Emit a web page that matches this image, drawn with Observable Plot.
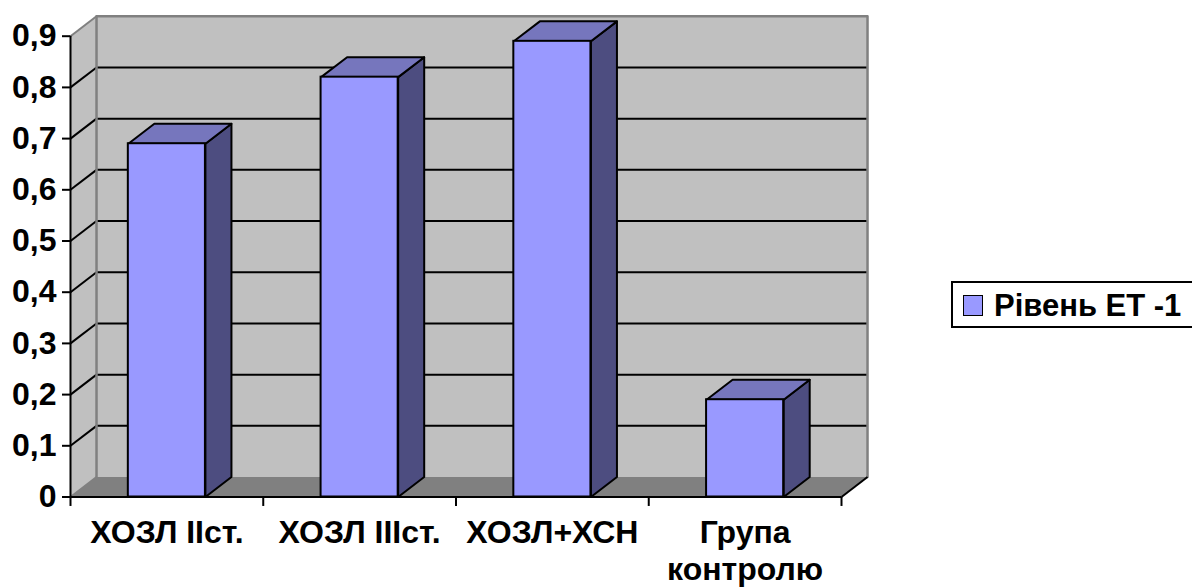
<!DOCTYPE html>
<html>
<head>
<meta charset="utf-8">
<script src="https://cdn.jsdelivr.net/npm/d3@7"></script>
<script src="https://cdn.jsdelivr.net/npm/@observablehq/plot@0.6"></script>
<style>
  html, body { margin: 0; background: #fff; overflow: hidden; }
  #chart { position: relative; width: 1192px; height: 587px; overflow: hidden; }
  #chart svg { display: block; }
  .legend {
    position: absolute; left: 951px; top: 281px; width: 250px; height: 43px;
    border: 2px solid #000; background: #fff; box-sizing: content-box;
    font: bold 31px "Liberation Sans", Arial, sans-serif; color: #000;
    white-space: nowrap;
  }
  .legend i {
    position: absolute; left: 10px; top: 12px; width: 18px; height: 19px;
    background: #9999ff; border: 1.5px solid #000;
  }
  .legend span { position: absolute; left: 41px; top: 7px; line-height: 32px; }
</style>
</head>
<body>
<div id="chart"></div>
<script>
const categories = ["ХОЗЛ IIст.", "ХОЗЛ IIIст.", "ХОЗЛ+ХСН", "Група\nконтролю"];
const values = [0.69, 0.82, 0.89, 0.19];
const yTicks = [0, 0.1, 0.2, 0.3, 0.4, 0.5, 0.6, 0.7, 0.8, 0.9];
const seriesName = "Рівень ЕТ -1";

// Oblique projection: how far the back plane is shifted, in axis units.
const depthX = 0.135;
const depthY = 0.039;
const barInset = 0.3;
const tickDrop = 0.0175;
const xMax = categories.length;
const yMax = yTicks[yTicks.length - 1];

// Closed outline in axis units, tagged with a group key for Plot.line.
const outline = (key, points) =>
  [...points, points[0]].map(([x, y]) => ({key, x, y}));

const backWall = outline("back", [
  [depthX, depthY], [xMax + depthX, depthY],
  [xMax + depthX, yMax + depthY], [depthX, yMax + depthY]
]);
const sideWall = outline("side", [
  [0, 0], [depthX, depthY], [depthX, yMax + depthY], [0, yMax]
]);
const floor = outline("floor", [
  [0, 0], [xMax, 0], [xMax + depthX, depthY], [depthX, depthY]
]);

const bars = values.map((value, i) => ({
  x1: i + barInset, x2: i + 1 - barInset, value
}));
const topFaces = bars.flatMap((b, i) => outline("top" + i, [
  [b.x1, b.value], [b.x2, b.value],
  [b.x2 + depthX, b.value + depthY], [b.x1 + depthX, b.value + depthY]
]));
const sideFaces = bars.flatMap((b, i) => outline("side" + i, [
  [b.x2, 0], [b.x2 + depthX, depthY],
  [b.x2 + depthX, b.value + depthY], [b.x2, b.value]
]));

const polygon = (data, fill, stroke) =>
  Plot.line(data, {x: "x", y: "y", z: "key", fill, stroke, strokeWidth: 2,
                   strokeLinejoin: "round", curve: "linear"});

const gridTicks = yTicks.filter(t => t > 0 && t < yMax);
const xTicks = d3.range(xMax + 1);
const wallEdge = [
  {x: depthX, y: depthY}, {x: depthX, y: yMax + depthY},
  {x: xMax + depthX, y: yMax + depthY}, {x: xMax + depthX, y: depthY}
];

const chart = Plot.plot({
  width: 1192,
  height: 587,
  marginLeft: 70,
  marginRight: 351,
  marginTop: 35.7,
  marginBottom: 90.5,
  style: {fontFamily: "'Liberation Sans', Arial, sans-serif", fontWeight: "bold", background: "#fff", color: "#000"},
  x: {domain: [0, xMax], axis: null},
  y: {domain: [0, yMax], axis: null},
  marks: [
    polygon(sideWall, "#c0c0c0", "none"),
    polygon(backWall, "#c0c0c0", "none"),
    polygon(floor, "#808080", "none"),

    // Gridlines wrap from the side wall onto the back wall.
    Plot.link(gridTicks, {x1: 0, y1: d => d, x2: depthX, y2: d => d + depthY, stroke: "#000", strokeWidth: 2}),
    Plot.link(gridTicks, {x1: depthX, y1: d => d + depthY, x2: xMax + depthX, y2: d => d + depthY, stroke: "#000", strokeWidth: 2}),

    // Grey wall edges.
    Plot.line(wallEdge, {x: "x", y: "y", stroke: "#808080", strokeWidth: 2.5}),
    Plot.link([0], {x1: 0, y1: yMax, x2: depthX, y2: yMax + depthY, stroke: "#808080", strokeWidth: 2}),
    Plot.link([0], {x1: 0, y1: 0, x2: depthX, y2: depthY, stroke: "#808080", strokeWidth: 2}),

    // Right-hand corner of the floor.
    Plot.link([0], {x1: xMax, y1: 0, x2: xMax + depthX, y2: depthY, stroke: "#000", strokeWidth: 2}),

    // Bars: side, top, then front.
    polygon(sideFaces, "#4d4d80", "#000"),
    polygon(topFaces, "#7676bd", "#000"),
    Plot.rect(bars, {x1: "x1", x2: "x2", y1: 0, y2: "value", fill: "#9999ff", stroke: "#000", strokeWidth: 2}),

    // Axes.
    Plot.ruleX([0], {y1: 0, y2: yMax, stroke: "#000", strokeWidth: 2}),
    Plot.ruleY([0], {x1: 0, x2: xMax, stroke: "#000", strokeWidth: 2}),
    Plot.axisY(yTicks, {
      anchor: "left", tickSize: 8, tickPadding: 6, strokeWidth: 2, stroke: "#000",
      fontSize: 32, fontWeight: "bold", fill: "#000",
      tickFormat: d => String(d).replace(".", ","), label: null
    }),
    Plot.link(xTicks, {x1: d => d, x2: d => d, y1: 0, y2: -tickDrop, stroke: "#000", strokeWidth: 2}),
    Plot.text(categories, {
      x: (d, i) => i + 0.5, y: 0, text: d => d, dy: 19, lineAnchor: "top",
      fontSize: 32, fontWeight: "bold", fill: "#000", lineHeight: 1.17
    })
  ]
});

const root = document.getElementById("chart");
root.append(chart);

const legend = document.createElement("div");
legend.className = "legend";
legend.innerHTML = "<i></i><span></span>";
legend.querySelector("span").textContent = seriesName;
root.append(legend);
</script>
</body>
</html>
